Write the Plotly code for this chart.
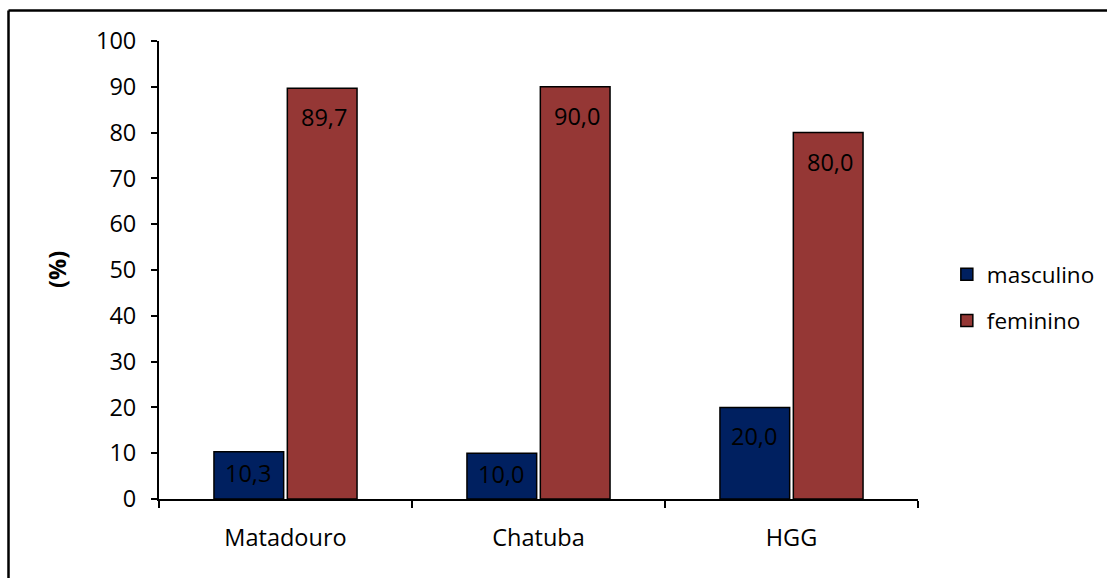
import plotly.graph_objects as go

# Distribuição por sexo (%) em cada local
locais = ["Matadouro", "Chatuba", "HGG"]
masculino = [10.3, 10.0, 20.0]
feminino = [89.7, 90.0, 80.0]
y_ticks = [0, 10, 20, 30, 40, 50, 60, 70, 80, 90, 100]

FONT = "Open Sans"
FS = 23.5
COR_MASC = "#002060"
COR_FEM = "#953735"

fig = go.Figure()
fig.add_trace(go.Bar(
    name="masculino", x=locais, y=masculino,
    marker=dict(color=COR_MASC, line=dict(color="black", width=1.5)),
    legendgroup="m",
))
fig.add_trace(go.Bar(
    name="feminino", x=locais, y=feminino,
    marker=dict(color=COR_FEM, line=dict(color="black", width=1.5)),
    legendgroup="f",
))

# value labels near the top of each bar (decimal comma)
PX_PER_UNIT = 458 / 100
for serie, dx in ((masculino, -38), (feminino, 38)):
    for loc, v in zip(locais, serie):
        shift = min(29, 0.45 * v * PX_PER_UNIT)
        fig.add_annotation(
            x=loc, y=v, xref="x", yref="y", xshift=dx, yshift=-shift,
            text=f"{v:.1f}".replace(".", ","), showarrow=False,
            xanchor="center", yanchor="middle",
            font=dict(family=FONT, size=FS, color="black"),
        )

# y axis title
fig.add_annotation(
    x=(57 - 159) / 759, y=0.5, xref="paper", yref="paper",
    text="<b>(%)</b>", textangle=-90, showarrow=False,
    xanchor="center", yanchor="middle",
    font=dict(family=FONT, size=FS, color="black"),
)

# outer frame (top and left edges visible)
fx0 = (8.5 - 159) / 759
fy1 = (499 - 10.5) / 458
fig.add_shape(type="line", xref="paper", yref="paper", x0=fx0, x1=1.4, y0=fy1, y1=fy1,
              line=dict(color="black", width=2.5))
fig.add_shape(type="line", xref="paper", yref="paper", x0=fx0, x1=fx0, y0=fy1, y1=-0.3,
              line=dict(color="black", width=2.5))

fig.update_layout(
    width=1107, height=578,
    margin=dict(l=159, r=189, t=41, b=79, autoexpand=False),
    paper_bgcolor="white", plot_bgcolor="white",
    barmode="group", bargap=0.42, bargroupgap=0.05,
    font=dict(family=FONT, size=FS, color="black"),
    showlegend=True,
    legend=dict(
        x=1.038, y=0.537, xanchor="left", yanchor="top",
        traceorder="grouped", tracegroupgap=14,
        font=dict(family=FONT, size=22.5, color="black"),
        bgcolor="rgba(0,0,0,0)",
    ),
    xaxis=dict(
        showline=True, linecolor="black", linewidth=2,
        ticks="outside", ticklen=7, tickwidth=2, tickcolor="black",
        tickson="boundaries", ticklabelstandoff=17,
        showgrid=False, zeroline=False,
    ),
    yaxis=dict(
        range=[0, 100], tickvals=y_ticks,
        showline=True, linecolor="black", linewidth=2,
        ticks="outside", ticklen=6, tickwidth=2, tickcolor="black",
        ticklabelstandoff=10,
        showgrid=False, zeroline=False,
    ),
)

fig.write_html("out.html")
